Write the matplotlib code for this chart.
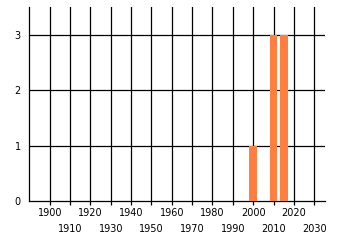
import numpy as np
import matplotlib

matplotlib.use("Agg")
import matplotlib.pyplot as plt

years = [2000, 2010, 2015]
counts = [1, 3, 3]
even_ticks = [1900, 1920, 1940, 1960, 1980, 2000, 2020]
odd_ticks = [1910, 1930, 1950, 1970, 1990, 2010, 2030]
y_ticks = [0, 1, 2, 3]

BAR_COLOR = "#ff7f40"

fig = plt.figure(figsize=(3.4, 2.45), dpi=100)
ax = fig.add_axes([29 / 340, 43.7 / 245, (325 - 29) / 340, (201.3 - 6.7) / 245])

ax.bar(years, counts, width=3.8, color=BAR_COLOR, zorder=3)

ax.set_xlim(1889.8, 2035.3)
ax.set_ylim(0, 3.51)

# vertical grid at every decade, horizontal at integer counts
for x in even_ticks + odd_ticks:
    ax.axvline(x, color="black", linewidth=0.9, zorder=1)
for y in y_ticks[1:]:
    ax.axhline(y, color="black", linewidth=0.9, zorder=1)

ax.set_xticks(even_ticks)
ax.set_xticks(odd_ticks, minor=True)
ax.set_xticklabels([str(t) for t in even_ticks])
ax.set_xticklabels([str(t) for t in odd_ticks], minor=True)
ax.tick_params(axis="x", which="major", length=3, width=0.9, pad=2, labelsize=7)
ax.tick_params(axis="x", which="minor", length=3, width=0.9, pad=13, labelsize=7)
ax.set_yticks(y_ticks)
ax.tick_params(axis="y", length=0, pad=6, labelsize=7)

for side in ["top", "right"]:
    ax.spines[side].set_visible(False)
ax.spines["left"].set_linewidth(0.9)
ax.spines["bottom"].set_linewidth(0.9)

fig.savefig("out.png", dpi=100)
